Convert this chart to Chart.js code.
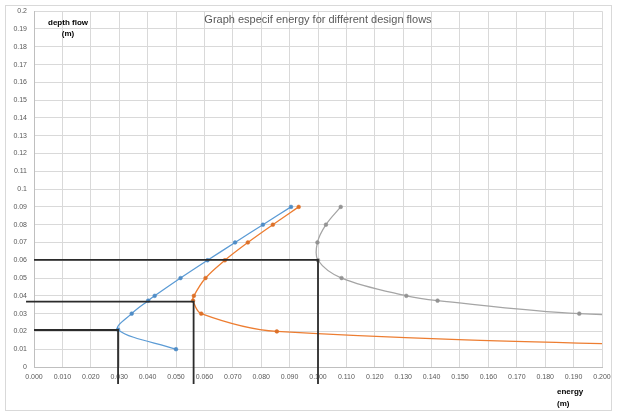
<!DOCTYPE html>
<html>
<head>
<meta charset="utf-8">
<script src="https://cdn.jsdelivr.net/npm/chart.js@4"></script>
<style>
  html, body { margin: 0; padding: 0; background: #fff; }
  #wrap { position: relative; width: 617px; height: 413px; }
  #frame { position: absolute; left: 5px; top: 5px; width: 607px; height: 406px; border: 1px solid #d9d9d9; box-sizing: border-box; }
  canvas { position: absolute; left: 0; top: 0; }
  .txt { position: absolute; font-family: "Liberation Sans", Arial, sans-serif; white-space: nowrap; }
  #title { left: 0; width: 636px; top: 13px; text-align: center; font-size: 11px; color: #595959; }
  #ytitle { left: 40px; width: 56px; top: 17px; text-align: center; font-size: 8px; font-weight: bold; color: #000; line-height: 11px; }
  #xtitle { left: 557px; top: 386px; font-size: 8px; font-weight: bold; color: #000; line-height: 12px; }
</style>
</head>
<body>
<div id="wrap">
  <div id="frame"></div>
  <canvas id="energyChart" width="617" height="413"></canvas>
  <div class="txt" id="title">Graph especif energy for different design flows</div>
  <div class="txt" id="ytitle">depth flow<br>(m)</div>
  <div class="txt" id="xtitle">energy<br>(m)</div>
</div>
<script>
// specific energy curves (x = energy, y = depth)
const blueEnergy   = [0.0905, 0.0806, 0.0708, 0.0611, 0.0516, 0.0425, 0.0402, 0.0344, 0.0296, 0.0500];
const blueDepth    = [0.09,   0.08,   0.07,   0.06,   0.05,   0.04,   0.0373, 0.03,   0.021,  0.01];
const orangeEnergy = [0.0932, 0.0841, 0.0753, 0.0672, 0.0604, 0.0563, 0.0560, 0.0589, 0.0855, 0.27];
const orangeDepth  = [0.09,   0.08,   0.07,   0.06,   0.05,   0.04,   0.0373, 0.03,   0.02,   0.01];
const grayEnergy   = [0.1080, 0.1028, 0.0998, 0.1000, 0.1083, 0.1311, 0.1421, 0.1920, 0.3845];
const grayDepth    = [0.09,   0.08,   0.07,   0.06,   0.05,   0.04,   0.0373, 0.03,   0.02];

// black guide lines (critical depth -> minimum energy)
const guide1Energy = [0, 0.0296, 0.0296];
const guide1Depth  = [0.0208, 0.0208, -0.0096];
const guide2Energy = [-0.0028, 0.0562, 0.0562];
const guide2Depth  = [0.0367, 0.0367, -0.0096];
const guide3Energy = [0, 0.1, 0.1];
const guide3Depth  = [0.0602, 0.0602, -0.0096];

// axes
const xMin = 0, xMax = 0.2, xStep = 0.01;
const yMin = 0, yMax = 0.2, yStep = 0.01;

function toPoints(xs, ys) {
    return xs.map((x, i) => ({ x: x, y: ys[i] }));
}

function curve(xs, ys, color, marker) {
    return {
        data: toPoints(xs, ys),
        showLine: true,
        borderColor: color,
        borderWidth: 1.3,
        tension: 0.35,
        pointRadius: 1.9,
        pointBackgroundColor: marker,
        pointBorderColor: marker,
        pointBorderWidth: 0.5
    };
}

function guide(xs, ys) {
    return {
        data: toPoints(xs, ys),
        showLine: true,
        borderColor: '#2b2b2b',
        borderWidth: 1.8,
        tension: 0,
        pointRadius: 0,
        clip: false
    };
}

const ctx = document.getElementById('energyChart').getContext('2d');
new Chart(ctx, {
    type: 'scatter',
    data: {
        datasets: [
            guide(guide1Energy, guide1Depth),
            guide(guide2Energy, guide2Depth),
            guide(guide3Energy, guide3Depth),
            curve(blueEnergy, blueDepth, '#5b9bd5', '#4f8cc6'),
            curve(orangeEnergy, orangeDepth, '#ed7d31', '#dc7028'),
            curve(grayEnergy, grayDepth, '#a5a5a5', '#939393')
        ]
    },
    options: {
        responsive: false,
        animation: false,
        layout: { padding: { left: 0, right: 15, top: 11, bottom: 0 } },
        plugins: {
            legend: { display: false },
            tooltip: { enabled: false }
        },
        scales: {
            x: {
                type: 'linear',
                min: xMin,
                max: xMax,
                afterFit: function(scale) { scale.height = 46; },
                grid: { color: '#d9d9d9', lineWidth: 1, drawTicks: false },
                border: { color: '#bfbfbf' },
                ticks: {
                    stepSize: xStep,
                    autoSkip: false,
                    maxRotation: 0,
                    padding: 6,
                    color: '#595959',
                    font: { family: 'Liberation Sans', size: 7 },
                    callback: function(value) { return value.toFixed(3); }
                }
            },
            y: {
                type: 'linear',
                min: yMin,
                max: yMax,
                afterFit: function(scale) { scale.width = 34; },
                grid: { color: '#d9d9d9', lineWidth: 1, drawTicks: false },
                border: { color: '#bfbfbf' },
                ticks: {
                    stepSize: yStep,
                    autoSkip: false,
                    padding: 7,
                    color: '#595959',
                    font: { family: 'Liberation Sans', size: 7 },
                    callback: function(value) { return String(Number(value.toFixed(2))); }
                }
            }
        }
    }
});
</script>
</body>
</html>
